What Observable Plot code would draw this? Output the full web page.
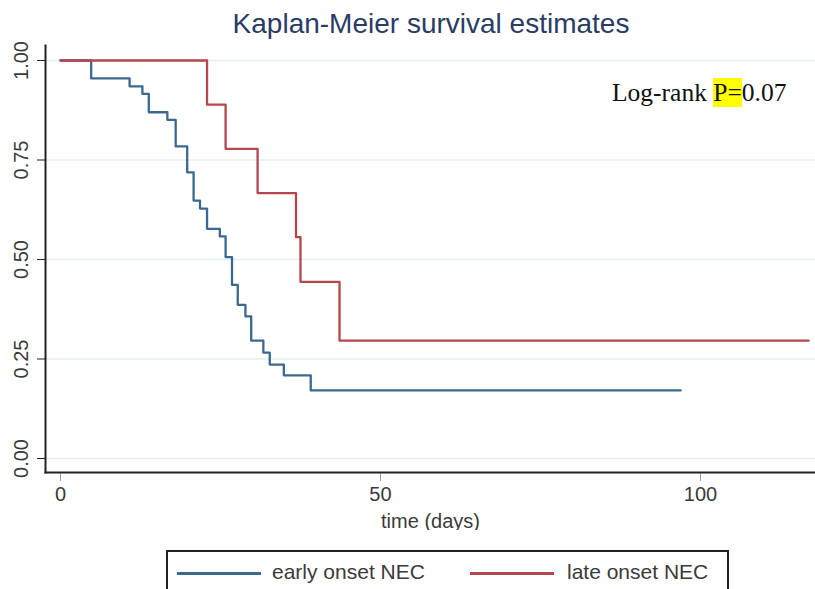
<!DOCTYPE html>
<html>
<head>
<meta charset="utf-8">
<script src="https://cdn.jsdelivr.net/npm/d3@7"></script>
<script src="https://cdn.jsdelivr.net/npm/@observablehq/plot@0.6"></script>
<style>
  html, body { margin: 0; padding: 0; background: #fff; }
  #wrap { position: relative; width: 815px; height: 589px; overflow: hidden; background: #fff; font-family: "Liberation Sans", Arial, sans-serif; }
  #title { position: absolute; left: 431px; top: 10px; transform: translateX(-50%); white-space: nowrap; font-size: 28px; line-height: 28px; color: #2a3c66; }
  #chart { position: absolute; left: 0; top: 0; }
  #note { position: absolute; left: 612px; top: 80px; font-family: "Liberation Serif", "Times New Roman", serif; font-size: 25.5px; line-height: 25.5px; color: #111; white-space: nowrap; }
  #note .hl { background: #ffff00; }
  #legend { position: absolute; left: 166px; top: 550px; width: 563px; height: 60px; border: 2px solid #222; box-sizing: border-box; }
  .sw { position: absolute; height: 2.5px; top: 20px; }
  .lt { position: absolute; top: 9px; font-size: 21px; line-height: 21px; color: #3a3a3a; white-space: nowrap; }
</style>
</head>
<body>
<div id="wrap">
  <div id="title"></div>
  <div id="chart"></div>
  <div id="note">Log-rank <span class="hl">P=</span>0.07</div>
  <div id="legend"></div>
</div>
<script>
// ---- data ----
const titleText = "Kaplan-Meier survival estimates";
const groups = ["early onset NEC", "late onset NEC"];
const groupColors = ["#3b6891", "#b4464d"];

const earlyTime = [0, 4.8, 10.8, 12.8, 13.8, 16.7, 18.0, 19.8, 20.8, 21.8, 22.9, 24.9, 25.8, 26.8, 27.7, 28.9, 29.8, 31.7, 32.7, 34.9, 39.1, 96.9];
const earlySurv = [1, 0.955, 0.935, 0.916, 0.870, 0.851, 0.784, 0.719, 0.648, 0.628, 0.577, 0.558, 0.506, 0.436, 0.386, 0.357, 0.296, 0.266, 0.236, 0.209, 0.171, 0.171];

const lateTime = [0, 22.9, 25.8, 30.8, 36.8, 37.5, 43.6, 116.9];
const lateSurv = [1, 0.889, 0.778, 0.667, 0.556, 0.444, 0.296, 0.296];

const xTicks = [0, 50, 100];
const yTicks = [0, 0.25, 0.5, 0.75, 1];
const xLabel = "time (days)";

// ---- build table ----
const rows = [
  ...earlyTime.map((t, i) => ({t, s: earlySurv[i], group: groups[0]})),
  ...lateTime.map((t, i) => ({t, s: lateSurv[i], group: groups[1]}))
];

document.getElementById("title").textContent = titleText;

const chart = Plot.plot({
  width: 815,
  height: 530,
  marginLeft: 45,
  marginRight: 0,
  marginTop: 45,
  marginBottom: 58,
  style: {fontFamily: "'Liberation Sans', Arial, sans-serif", fontSize: "20px", background: "transparent"},
  x: {domain: [-2.34, 117.97]},
  y: {domain: [-0.0352, 1.0377]},
  color: {domain: groups, range: groupColors},
  marks: [
    Plot.gridY(yTicks, {stroke: "#e4eef0", strokeOpacity: 1, strokeWidth: 1.6}),
    Plot.line(rows, {x: "t", y: "s", z: "group", stroke: "group", curve: "step-after", strokeWidth: 2.3}),
    Plot.axisY({ticks: yTicks, tickFormat: d3.format(".2f"), tickSize: 8, tickPadding: 10, tickRotate: -90, label: null, fontSize: 20, stroke: "#222", fill: "#3a3a3a"}),
    Plot.axisX({ticks: xTicks, tickFormat: d3.format("d"), tickSize: 9, tickPadding: 5, fontSize: 20, stroke: "#999", fill: "#3a3a3a", label: xLabel, labelAnchor: "center", labelArrow: "none", labelOffset: 55}),
    Plot.frame({anchor: "left", stroke: "#222", strokeWidth: 2}),
    Plot.frame({anchor: "bottom", stroke: "#222", strokeWidth: 2})
  ]
});
document.getElementById("chart").appendChild(chart);

// ---- legend ----
const legend = document.getElementById("legend");
const swLeft = [9, 302];
const swWidth = [84, 84];
const txLeft = [104, 399];
groups.forEach((g, i) => {
  const sw = document.createElement("div");
  sw.className = "sw";
  sw.style.left = swLeft[i] + "px";
  sw.style.width = swWidth[i] + "px";
  sw.style.background = groupColors[i];
  legend.appendChild(sw);
  const tx = document.createElement("div");
  tx.className = "lt";
  tx.style.left = txLeft[i] + "px";
  tx.textContent = g;
  legend.appendChild(tx);
});
</script>
</body>
</html>
